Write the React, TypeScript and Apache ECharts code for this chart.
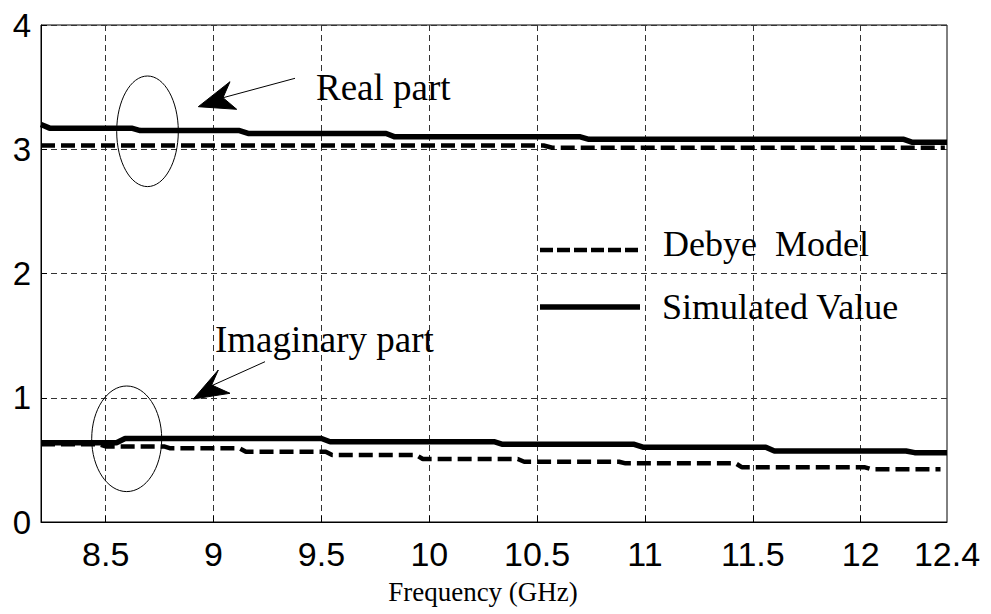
import React, { useEffect, useRef } from "react";
import * as echarts from "echarts";

const xTickValues = [8.5, 9, 9.5, 10, 10.5, 11, 11.5, 12];
const xLabelValues = [8.5, 9, 9.5, 10, 10.5, 11, 11.5, 12, 12.4];
const xAxisTitle = "Frequency (GHz)";

const simulatedReal: [number, number][] = [
  [8.2, 3.2], [8.24, 3.17], [8.62, 3.17], [8.66, 3.15], [9.12, 3.15], [9.16, 3.127],
  [9.8, 3.127], [9.84, 3.1], [10.7, 3.1], [10.74, 3.08], [12.2, 3.08], [12.24, 3.056], [12.4, 3.056],
];
const debyeReal: [number, number][] = [
  [8.2, 3.03], [10.53, 3.03], [10.57, 3.012], [12.39, 3.012],
];
const simulatedImag: [number, number][] = [
  [8.2, 0.638], [8.55, 0.638], [8.59, 0.672], [9.5, 0.672], [9.54, 0.646], [10.3, 0.646],
  [10.34, 0.625], [10.95, 0.625], [10.99, 0.602], [11.56, 0.602], [11.6, 0.571], [12.21, 0.571],
  [12.25, 0.558], [12.4, 0.558],
];
const debyeImag: [number, number][] = [
  [8.2, 0.625], [8.47, 0.625], [8.5, 0.608], [8.77, 0.608], [8.8, 0.593], [9.12, 0.593],
  [9.15, 0.565], [9.52, 0.565], [9.55, 0.539], [9.94, 0.539], [9.97, 0.507], [10.41, 0.507],
  [10.44, 0.485], [10.88, 0.485], [10.91, 0.472], [11.42, 0.472], [11.45, 0.44], [12.02, 0.44],
  [12.05, 0.424], [12.37, 0.424],
];

const legendNames = ["Debye  Model", "Simulated Value"];
const annotations = ["Real part", "Imaginary part"];

const SANS = "'Liberation Sans', Arial, sans-serif";
const SERIF = "'Liberation Serif', 'Times New Roman', serif";
const DASH = [14, 6];

export default function App() {
  const ref = useRef<HTMLDivElement>(null);
  useEffect(() => {
    if (!ref.current) return;
    const chart = echarts.init(ref.current, null, { renderer: "svg" });
    const solid = { color: "#000", width: 5.5, type: "solid" as const };
    const dashed = { color: "#000", width: 4.5, type: DASH as any };
    const arrowHead = (pts: number[][]) => ({
      type: "polygon",
      shape: { points: pts },
      style: { fill: "#000", stroke: "#000", lineWidth: 1 },
      z: 100,
    });
    const label = (text: string, x: number, y: number, size: number) => ({
      type: "text", x, y,
      style: { text, font: `${size}px ${SERIF}`, fill: "#000" },
      z: 100,
    });
    chart.setOption({
      animation: false,
      backgroundColor: "#fff",
      grid: {
        left: 41, right: 44, top: 25, bottom: 92,
        show: true, borderColor: "#000", borderWidth: 1,
      },
      xAxis: {
        type: "value",
        min: 8.2,
        max: 12.4,
        axisLine: { show: true, onZero: false, lineStyle: { color: "#000", width: 1 } },
        axisTick: { show: true, inside: true, length: 6, customValues: xTickValues, lineStyle: { color: "#000" } },
        axisLabel: {
          customValues: xLabelValues,
          fontFamily: SANS, fontSize: 34, color: "#000", margin: 15,
          formatter: (v: number) => String(v),
        },
        splitLine: { show: true, lineStyle: { color: "#333", width: 1, type: [6, 4] } },
        name: xAxisTitle,
        nameLocation: "middle",
        nameGap: 56,
        nameTextStyle: { fontFamily: SERIF, fontSize: 27, color: "#000", padding: [0, 22, 0, 0] },
      },
      yAxis: {
        type: "value",
        min: 0,
        max: 4,
        interval: 1,
        axisLine: { show: true, lineStyle: { color: "#000", width: 1 } },
        axisTick: { show: true, inside: true, length: 6, lineStyle: { color: "#000" } },
        axisLabel: { fontFamily: SANS, fontSize: 33, color: "#000", margin: 10 },
        splitLine: { show: true, lineStyle: { color: "#333", width: 1, type: [6, 4] } },
      },
      series: [
        { name: legendNames[1], type: "line", data: simulatedReal, showSymbol: false, lineStyle: solid, z: 5 },
        { name: legendNames[0], type: "line", data: debyeReal, showSymbol: false, lineStyle: dashed, z: 4 },
        { name: legendNames[1], type: "line", data: simulatedImag, showSymbol: false, lineStyle: solid, z: 5 },
        { name: legendNames[0], type: "line", data: debyeImag, showSymbol: false, lineStyle: dashed, z: 4 },
      ],
      graphic: [
        // legend
        { type: "line", shape: { x1: 540, y1: 250, x2: 640, y2: 250 }, style: { stroke: "#000", lineWidth: 4.5, lineDash: [13, 4] }, z: 100 },
        label(legendNames[0], 663, 226, 36),
        { type: "line", shape: { x1: 540, y1: 307, x2: 640, y2: 307 }, style: { stroke: "#000", lineWidth: 5.5 }, z: 100 },
        label(legendNames[1], 662, 289, 36),
        // real part annotation
        { type: "ellipse", shape: { cx: 147.5, cy: 131.3, rx: 30.8, ry: 55.3 }, style: { fill: "none", stroke: "#000", lineWidth: 1 }, z: 100 },
        { type: "line", shape: { x1: 295, y1: 78.3, x2: 222, y2: 98 }, style: { stroke: "#000", lineWidth: 1 }, z: 100 },
        arrowHead([[198.3, 106.7], [230, 81.7], [223, 97.7], [236.7, 109.3]]),
        label(annotations[0], 316, 69, 37),
        // imaginary part annotation
        { type: "ellipse", shape: { cx: 126.7, cy: 438.8, rx: 35, ry: 52.8 }, style: { fill: "none", stroke: "#000", lineWidth: 1 }, z: 100 },
        { type: "line", shape: { x1: 265, y1: 361.7, x2: 211, y2: 386 }, style: { stroke: "#000", lineWidth: 1 }, z: 100 },
        arrowHead([[193.3, 399], [218.3, 370], [211.7, 385], [230, 393.3]]),
        label(annotations[1], 215, 321, 37),
      ],
    });
    return () => chart.dispose();
  }, []);
  return <div ref={ref} style={{ width: 991, height: 614, position: "absolute", left: 0, top: 0 }} />;
}
